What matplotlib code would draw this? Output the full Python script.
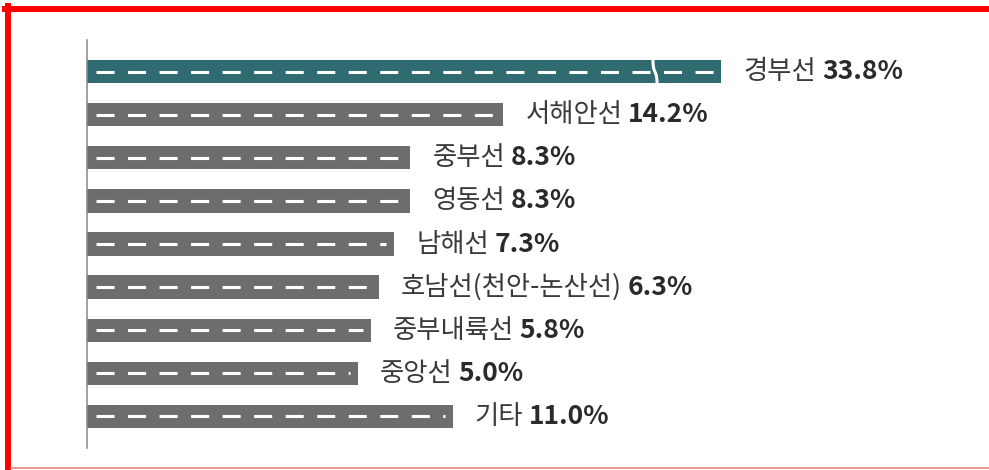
import matplotlib
matplotlib.use("Agg")
import matplotlib.pyplot as plt
import numpy as np
from matplotlib.lines import Line2D

plt.rcParams['font.family'] = ['Noto Sans CJK KR', 'DejaVu Sans']
plt.rcParams['lines.scale_dashes'] = False

# data
lines = ['경부선', '서해안선', '중부선', '영동선', '남해선',
         '호남선(천안-논산선)', '중부내륙선', '중앙선', '기타']
shares = [33.8, 14.2, 8.3, 8.3, 7.3, 6.3, 5.8, 5.0, 11.0]
labels = ['33.8%', '14.2%', '8.3%', '8.3%', '7.3%', '6.3%', '5.8%', '5.0%', '11.0%']

base = -12.15   # bars in the original don't start at zero
cap = 28.0      # the long bar is cut here and gets a break mark
teal = '#2f6b70'
grey = '#6d6d6d'

fig = plt.figure(figsize=(9.89, 4.70), dpi=100)
ax = fig.add_axes([87 / 989, 22 / 470, 900 / 989, 408 / 470])

y = np.arange(len(lines))
ends = [min(v, cap) for v in shares]
widths = [e - base for e in ends]
colors = [teal] + [grey] * (len(lines) - 1)
h = 0.535
ax.barh(y, widths, left=base, height=h, color=colors)

# white road dashes
for i, e in enumerate(ends):
    ax.plot([base + 0.57, e - 0.5], [i, i], color='white', lw=2.2,
            dashes=(13, 9.7), solid_capstyle='butt')

# break mark on the top bar
brk = 23.8
t = np.linspace(-1, 1, 30)
ax.plot(brk + 0.13 * np.tanh(2.5 * t), 0 + t * h / 2 * 1.05, color='white', lw=2.2)

# labels
for i, (e, name, lab) in enumerate(zip(ends, lines, labels)):
    tx = ax.text(e + 1.4, i, name, va='center', ha='left', fontsize=19, color='#3a3a3a')
    ax.annotate(lab, xy=(1, 0.5), xycoords=tx, xytext=(4, 0), textcoords='offset points',
                va='center', ha='left', fontsize=19, fontweight='bold', color='#2a2a2a')

ax.set_xlim(base, base + 900 / 15.8)
ax.set_ylim(len(lines) - 1 + 0.744, -0.744)
for s in ['top', 'right', 'bottom']:
    ax.spines[s].set_visible(False)
ax.spines['left'].set_color('#888888')
ax.spines['left'].set_linewidth(1.1)
ax.set_xticks([])
ax.set_yticks([])

# red frame
fig.add_artist(Line2D([8 / 989, 8 / 989], [0, 1 - 6 / 470], color='red', lw=4.3,
                      transform=fig.transFigure))
fig.add_artist(Line2D([5 / 989, 1], [1 - 9 / 470, 1 - 9 / 470], color='red', lw=4.3,
                      transform=fig.transFigure))
fig.add_artist(Line2D([11 / 989, 1], [2 / 470, 2 / 470], color='#f08080', lw=1.2,
                      transform=fig.transFigure))

fig.savefig('out.png', dpi=100)
